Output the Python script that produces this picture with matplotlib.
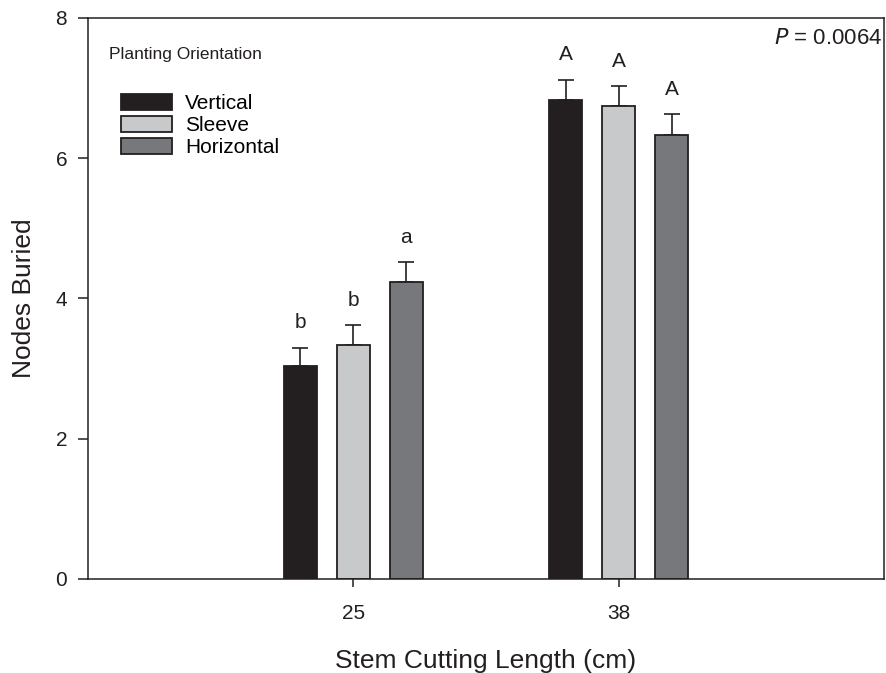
import numpy as np
import matplotlib.pyplot as plt

plt.rcParams['font.family'] = ['Liberation Sans', 'DejaVu Sans']

# data
lengths = ['25', '38']
orientations = ['Vertical', 'Sleeve', 'Horizontal']
means = {
    'Vertical':   [3.03, 6.83],
    'Sleeve':     [3.33, 6.74],
    'Horizontal': [4.23, 6.33],
}
errors = {
    'Vertical':   [0.27, 0.29],
    'Sleeve':     [0.29, 0.29],
    'Horizontal': [0.29, 0.30],
}
letters = {
    'Vertical':   ['b', 'A'],
    'Sleeve':     ['b', 'A'],
    'Horizontal': ['a', 'A'],
}
colors = ['#231f20', '#c8c9cb', '#77787b']
edge = '#231f20'

fig = plt.figure(figsize=(8.86, 6.73), dpi=100)
ax = fig.add_axes([0.0993, 0.1397, 0.8984, 0.8336])

x = np.arange(len(lengths))
width = 0.124
offsets = [-0.2, 0.0, 0.2]

for name, col, off in zip(orientations, colors, offsets):
    ax.bar(x + off, means[name], width, color=col, edgecolor=edge,
           linewidth=1.3, label=name, zorder=2)
    ax.errorbar(x + off, means[name], yerr=[np.zeros(2), errors[name]],
                fmt='none', ecolor=edge, elinewidth=1.2, capsize=6,
                capthick=1.2, zorder=1)
    for xi, m, e, l in zip(x + off, means[name], errors[name], letters[name]):
        ax.annotate(l, (xi, m + e), xytext=(0, 11), textcoords='offset points',
                    ha='center', va='bottom', fontsize=15, color='#231f20')

ax.set_xlim(-1, 2)
ax.set_ylim(0, 8)
ax.set_xticks(x)
ax.set_xticklabels(lengths)
ax.set_yticks([0, 2, 4, 6, 8])
ax.tick_params(axis='both', labelsize=15, colors='#231f20', width=1.1,
               direction='out')
ax.tick_params(axis='y', length=7, pad=8)
ax.tick_params(axis='x', length=6, pad=12)
for s in ax.spines.values():
    s.set_linewidth(1.1)
    s.set_color('#231f20')

ax.set_xlabel('Stem Cutting Length (cm)', fontsize=19, labelpad=19, color='#231f20')
ax.set_ylabel('Nodes Buried', fontsize=19, labelpad=14, color='#231f20')

ax.text(0.027, 0.935, 'Planting Orientation', transform=ax.transAxes,
        fontsize=12.5, ha='left', va='center', color='#231f20')
ax.text(0.998, 0.963, '$\\it{P}$ = 0.0064', transform=ax.transAxes,
        fontsize=16, ha='right', va='center', color='#231f20')

ax.legend(loc='upper left', bbox_to_anchor=(0.042, 0.865), frameon=False,
          fontsize=15, handlelength=2.45, handleheight=0.8,
          labelspacing=0.14, handletextpad=0.6, borderaxespad=0,
          borderpad=0)

fig.savefig('out.png', dpi=100)
